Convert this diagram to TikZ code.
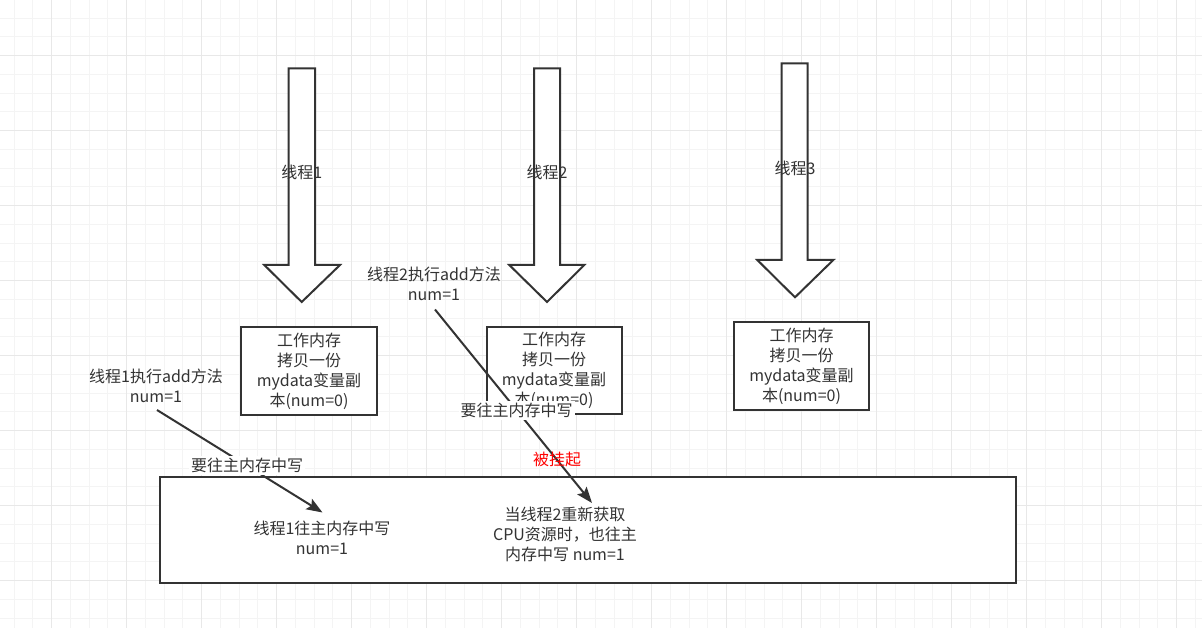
\documentclass[tikz,border=0pt]{standalone}
\usepackage{fontspec}
\setmainfont{Noto Sans CJK SC}
\usetikzlibrary{arrows.meta}
\definecolor{ink}{HTML}{333333}
\definecolor{gridminor}{HTML}{F4F4F4}
\definecolor{gridmajor}{HTML}{E8E8E8}
\definecolor{warn}{HTML}{FF0000}
\tikzset{
  txt/.style={text=ink, font=\fontsize{16}{20}\selectfont, align=center, inner sep=1pt},
  membox/.style={draw=ink, line width=2pt, fill=white, text=ink, font=\fontsize{16}{20}\selectfont, align=center, inner sep=0pt},
  blockarrow/.style={draw=ink, line width=2pt, fill=white, line join=miter},
  conn/.style={draw=ink, line width=2pt, -{Stealth[length=16pt,width=12pt,inset=3pt]}},
  edgelbl/.style={txt, fill=white, inner sep=2pt},
}
\begin{document}
\begin{tikzpicture}[x=1pt,y=-1pt]
\useasboundingbox (0,0) rectangle (1202,628);
\fill[white] (0,0) rectangle (1202,628);
% grid
\foreach \i in {0,...,63} { \draw[gridminor, line width=1pt] ({14.2+18.75*\i},0) -- ({14.2+18.75*\i},628); }
\foreach \j in {0,...,32} { \draw[gridminor, line width=1pt] (0,{18.2+18.75*\j}) -- (1202,{18.2+18.75*\j}); }
\foreach \i in {0,...,15} { \draw[gridmajor, line width=1pt] ({51.7+75*\i},0) -- ({51.7+75*\i},628); }
\foreach \j in {0,...,7} { \draw[gridmajor, line width=1pt] (0,{55.7+75*\j}) -- (1202,{55.7+75*\j}); }

% block arrows (threads)
\draw[blockarrow] (288.5,68.5) -- (315,68.5) -- (315,265) -- (340,265) -- (301.7,302) -- (264.3,265) -- (288.5,265) -- cycle;
\draw[blockarrow] (534,68.5) -- (560,68.5) -- (560,265) -- (584.3,265) -- (547,302) -- (509.3,265) -- (534,265) -- cycle;
\draw[blockarrow] (781.7,63.5) -- (807.7,63.5) -- (807.7,260) -- (833.3,260) -- (795,297.3) -- (757.3,260) -- (781.7,260) -- cycle;
\node[txt] (t1) at (301.7,172) {线程1};
\node[txt] (t2) at (547,172) {线程2};
\node[txt] (t3) at (795,168) {线程3};

% working memory boxes
\node[membox, minimum width=136pt, minimum height=88pt] (w1) at (309,371) {工作内存\\拷贝一份\\mydata变量副\\本(num=0)};
\node[membox, minimum width=135pt, minimum height=87pt] (w2) at (554,370.5) {工作内存\\拷贝一份\\mydata变量副\\本(num=0)};
\node[membox, minimum width=135pt, minimum height=88pt] (w3) at (801.5,366) {工作内存\\拷贝一份\\mydata变量副\\本(num=0)};

% main memory
\node[membox, minimum width=856pt, minimum height=106pt] (main) at (588,530) {};
\node[txt] (m1) at (322,538) {线程1往主内存中写\\num=1};
\node[txt] (m2) at (565,534) {当线程2重新获取\\CPU资源时，也往主\\内存中写 num=1};

% operation labels
\node[txt] (a1) at (156,386) {线程1执行add方法\\num=1};
\node[txt] (a2) at (434,284) {线程2执行add方法\\num=1};

\coordinate (s1) at (157,410);
\coordinate (e1) at (322.5,512.5);
\coordinate (s2) at (435,309.5);
\coordinate (e2) at (592,503);

\draw[conn] (s1) -- node[edgelbl, pos=0.545] (l1) {要往主内存中写} (e1);
\draw[conn] (s2) -- node[edgelbl, pos=0.52] (l2) {要往主内存中写} (e2);
\node[txt, text=warn] (susp) at (557,459) {被挂起};
\end{tikzpicture}
\end{document}
